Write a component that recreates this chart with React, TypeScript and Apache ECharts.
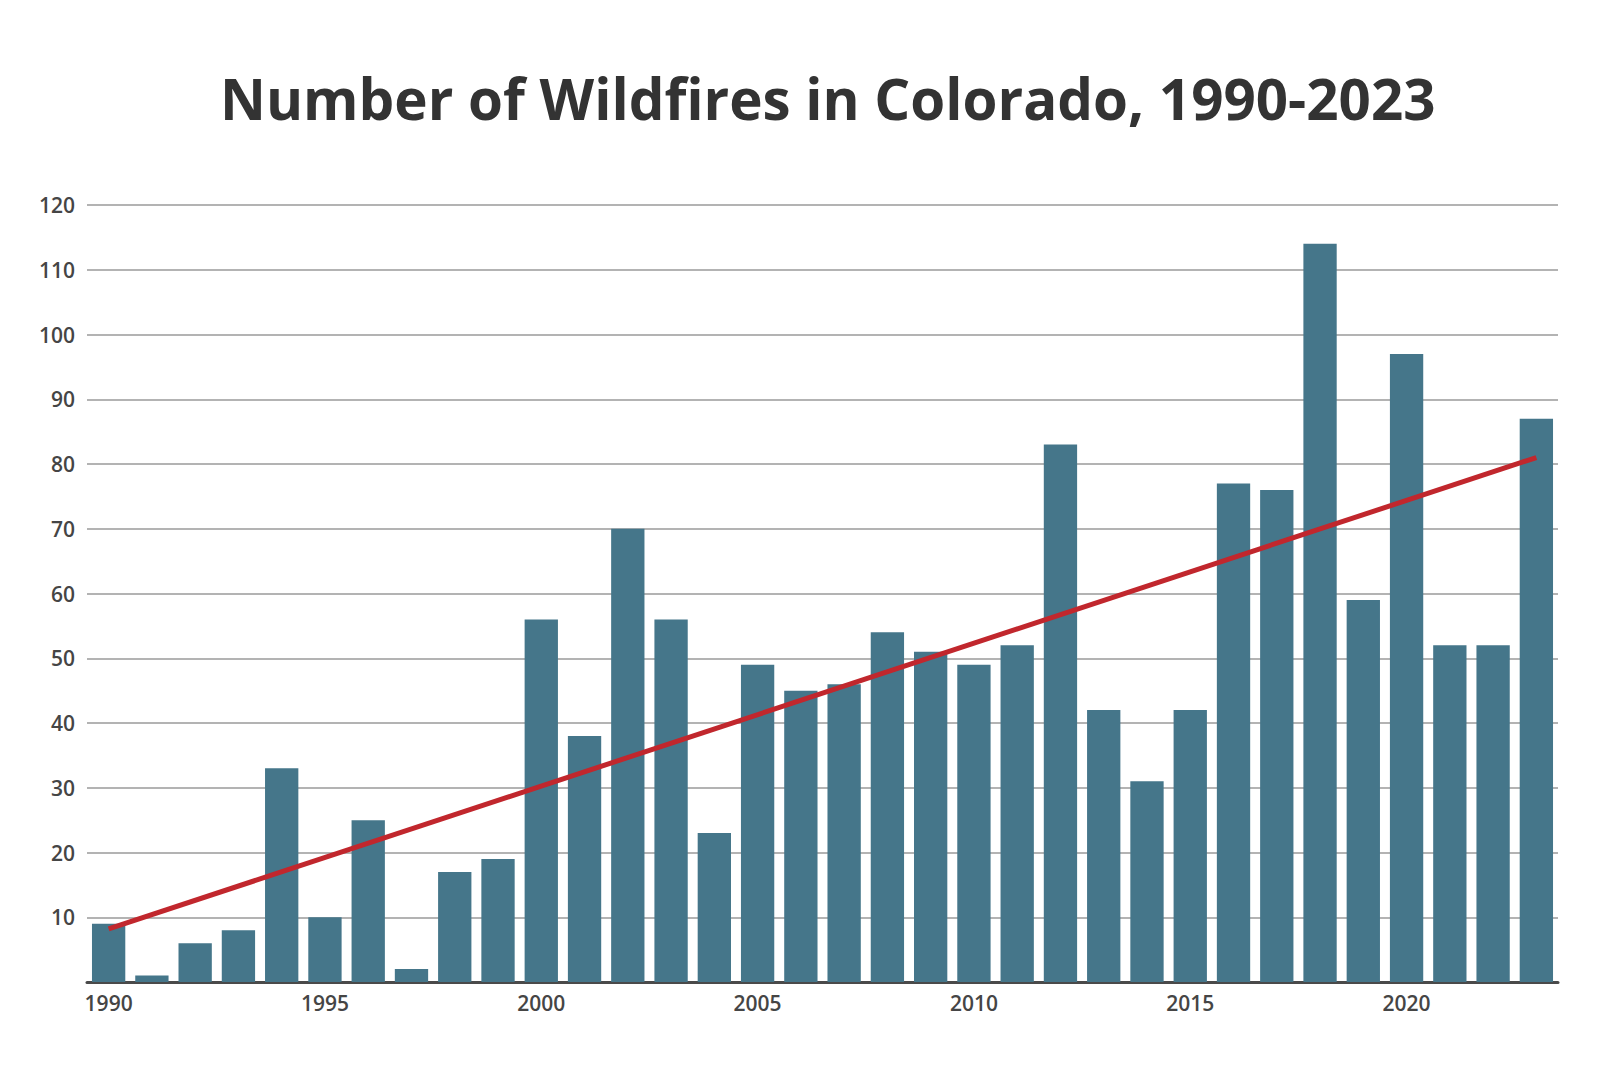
import React, { useEffect, useRef } from "react";
import * as echarts from "echarts";

const years = [
  "1990", "1991", "1992", "1993", "1994", "1995", "1996", "1997", "1998", "1999",
  "2000", "2001", "2002", "2003", "2004", "2005", "2006", "2007", "2008", "2009",
  "2010", "2011", "2012", "2013", "2014", "2015", "2016", "2017", "2018", "2019",
  "2020", "2021", "2022", "2023",
];
const wildfires = [
  9, 1, 6, 8, 33, 10, 25, 2, 17, 19,
  56, 38, 70, 56, 23, 49, 45, 46, 54, 51,
  49, 52, 83, 42, 31, 42, 77, 76, 114, 59,
  97, 52, 52, 87,
];
const trendYears = ["1990", "2023"];
const trendValues = [8.2, 81];
const titleText = "Number of Wildfires in Colorado, 1990-2023";

export default function App() {
  const ref = useRef<HTMLDivElement>(null);
  useEffect(() => {
    document.body.style.margin = "0";
    const chart = echarts.init(ref.current!, null, { renderer: "svg" });
    chart.setOption({
      animation: false,
      backgroundColor: "#ffffff",
      title: {
        text: titleText,
        left: 215,
        top: 65,
        textStyle: {
          fontFamily: "Open Sans",
          fontWeight: 700,
          fontSize: 56.5,
          color: "#333333",
        },
      },
      grid: { left: 87, right: 62, top: 205, bottom: 98 },
      xAxis: {
        type: "category",
        data: years,
        axisTick: { show: false },
        axisLine: { lineStyle: { color: "#4a4a4a", width: 3 } },
        axisLabel: {
          interval: 4,
          margin: 10,
          fontFamily: "Open Sans",
          fontWeight: 600,
          fontSize: 21,
          color: "#454545",
        },
      },
      yAxis: {
        type: "value",
        min: 0,
        max: 120,
        interval: 10,
        axisLine: { show: false },
        axisTick: { show: false },
        splitLine: { lineStyle: { color: "#9a9a9a", width: 1.5 } },
        axisLabel: {
          margin: 12,
          fontFamily: "Open Sans",
          fontWeight: 600,
          fontSize: 21,
          color: "#454545",
          formatter: (v: number) => (v === 0 ? "" : String(v)),
        },
      },
      series: [
        {
          type: "bar",
          data: wildfires,
          barCategoryGap: "23%",
          itemStyle: { color: "#45768a" },
        },
        {
          type: "line",
          data: trendYears.map((y, i) => [y, trendValues[i]]),
          symbol: "none",
          lineStyle: { color: "#c1272d", width: 5 },
          z: 5,
        },
      ],
    });
    return () => chart.dispose();
  }, []);
  return <div ref={ref} style={{ width: 1620, height: 1080 }} />;
}
